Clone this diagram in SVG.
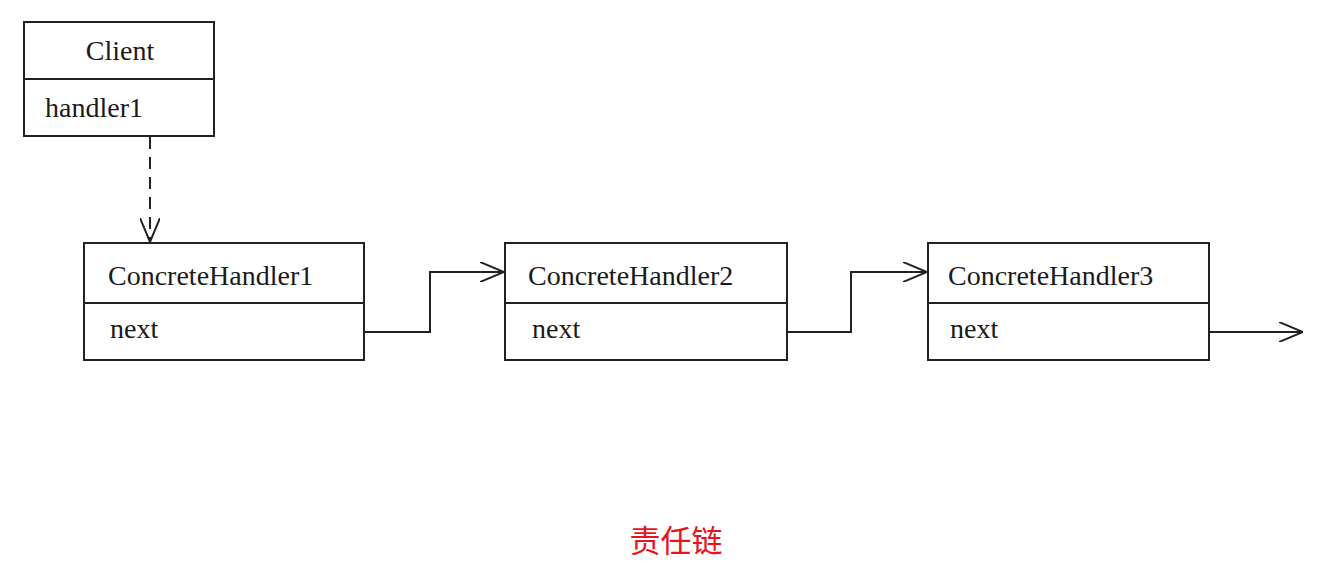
<svg xmlns="http://www.w3.org/2000/svg" width="1329" height="571" viewBox="0 0 1329 571">
<style>
.box{fill:#fff;stroke:#222;stroke-width:2}
.div{stroke:#222;stroke-width:2}
.t{font-family:"Liberation Serif","Times New Roman",serif;font-size:28px;fill:#1a1a1a}
.c{fill:none;stroke:#222;stroke-width:2}
.title{font-family:"Noto Sans CJK SC",sans-serif;font-size:31px;fill:#e8141c}
</style>
<defs>
<marker id="open" viewBox="0 0 24 20" refX="24" refY="10" markerWidth="24" markerHeight="20" markerUnits="userSpaceOnUse" orient="auto">
<path d="M0,0 L24,10 L0,20" fill="none" stroke="#222" stroke-width="2"/>
</marker>
</defs>
<rect width="1329" height="571" fill="#fff"/>
<g id="client">
<rect class="box" x="24" y="22" width="190" height="114"/>
<line class="div" x1="24" y1="79" x2="214" y2="79"/>
<text class="t" x="120" y="60" text-anchor="middle">Client</text>
<text class="t" x="45" y="117">handler1</text>
</g>
<g id="handler1">
<rect class="box" x="84" y="243" width="280" height="117"/>
<line class="div" x1="84" y1="303" x2="364" y2="303"/>
<text class="t" x="108" y="285">ConcreteHandler1</text>
<text class="t" x="110" y="338">next</text>
</g>
<g id="handler2">
<rect class="box" x="505" y="243" width="282" height="117"/>
<line class="div" x1="505" y1="303" x2="787" y2="303"/>
<text class="t" x="528" y="285">ConcreteHandler2</text>
<text class="t" x="532" y="338">next</text>
</g>
<g id="handler3">
<rect class="box" x="928" y="243" width="281" height="117"/>
<line class="div" x1="928" y1="303" x2="1209" y2="303"/>
<text class="t" x="948" y="285">ConcreteHandler3</text>
<text class="t" x="950" y="338">next</text>
</g>
<g id="connectors">
<path class="c" d="M150,137 L150,242" stroke-dasharray="12,8" marker-end="url(#open)"/>
<path class="c" d="M364,332 L430,332 L430,272 L504,272" marker-end="url(#open)"/>
<path class="c" d="M787,332 L851,332 L851,272 L927,272" marker-end="url(#open)"/>
<path class="c" d="M1209,332 L1303,332" marker-end="url(#open)"/>
</g>
<text id="title" class="title" x="676" y="552" text-anchor="middle">责任链</text>
</svg>
